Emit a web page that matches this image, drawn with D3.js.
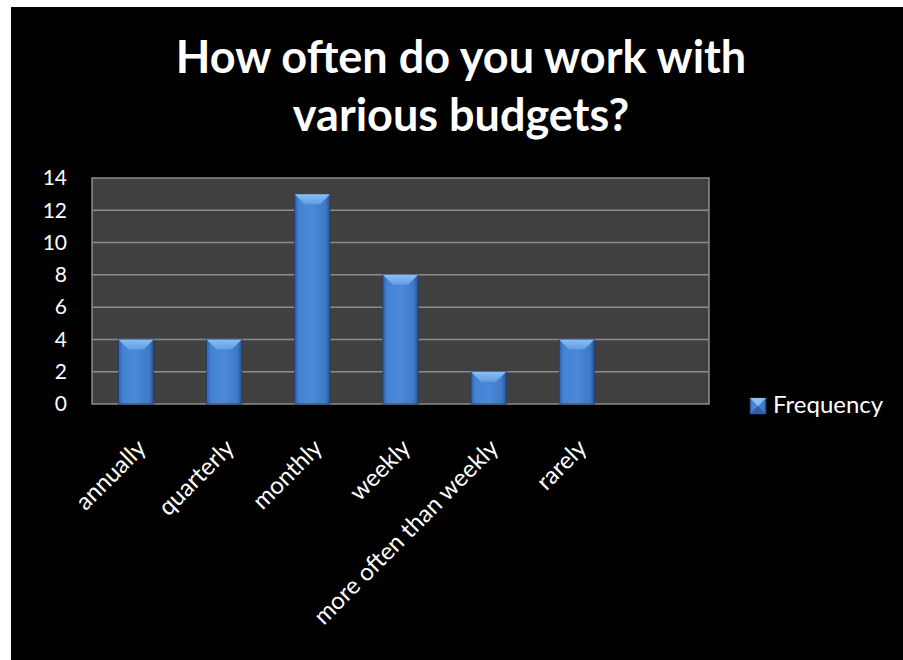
<!DOCTYPE html>
<html>
<head>
<meta charset="utf-8">
<script src="https://cdn.jsdelivr.net/npm/d3@7"></script>
<style>
  html, body { margin: 0; padding: 0; background: #fff; }
  svg { display: block; }
  text { font-family: Lato, "Open Sans", sans-serif; fill: #fff; }
</style>
</head>
<body>
<svg id="chart" width="903" height="660"></svg>
<script>
// Survey responses: how often respondents work with budgets
const categories = ["annually", "quarterly", "monthly", "weekly", "more often than weekly", "rarely", ""];
const frequency = [4, 4, 13, 8, 2, 4, null];
const yTicks = [0, 2, 4, 6, 8, 10, 12, 14];
const titleLines = ["How often do you work with", "various budgets?"];
const seriesName = "Frequency";

const svg = d3.select("#chart");
const W = 903, H = 660;

// chart frame (black panel)
svg.append("rect").attr("x", 11).attr("y", 7).attr("width", W - 11).attr("height", H - 7).attr("fill", "#000");

const plot = { left: 92, top: 178, right: 709, bottom: 404 };

const x = d3.scaleBand().domain(categories.map((c, i) => i))
  .range([plot.left, plot.right]).paddingInner(0.6).paddingOuter(0.3);
const y = d3.scaleLinear().domain([0, 14]).range([plot.bottom, plot.top]);

const defs = svg.append("defs");
const face = defs.append("linearGradient").attr("id", "barFace").attr("x1", 0).attr("x2", 1).attr("y1", 0).attr("y2", 0);
face.append("stop").attr("offset", 0).attr("stop-color", "#2f5fa8");
face.append("stop").attr("offset", 0.12).attr("stop-color", "#4582d4");
face.append("stop").attr("offset", 0.5).attr("stop-color", "#4a88d8");
face.append("stop").attr("offset", 0.88).attr("stop-color", "#3f78c6");
face.append("stop").attr("offset", 1).attr("stop-color", "#274f8e");
const topBevel = defs.append("linearGradient").attr("id", "barTop").attr("x1", 0).attr("x2", 0).attr("y1", 0).attr("y2", 1);
topBevel.append("stop").attr("offset", 0).attr("stop-color", "#8cc0f4");
topBevel.append("stop").attr("offset", 1).attr("stop-color", "#5f9ce6");

// plot area
svg.append("rect").attr("x", plot.left).attr("y", plot.top)
  .attr("width", plot.right - plot.left).attr("height", plot.bottom - plot.top)
  .attr("fill", "#404040").attr("stroke", "#8c8c8c").attr("stroke-width", 1.5);

// gridlines
svg.append("g").selectAll("line").data(yTicks.slice(1, -1)).join("line")
  .attr("x1", plot.left).attr("x2", plot.right)
  .attr("y1", d => y(d)).attr("y2", d => y(d))
  .attr("stroke", "#8c8c8c").attr("stroke-width", 1.5);

// y axis labels
const yAxis = svg.append("g").attr("transform", `translate(${plot.left},0)`)
  .call(d3.axisLeft(y).tickValues(yTicks).tickSize(0).tickPadding(25));
yAxis.select(".domain").remove();
yAxis.selectAll("text").attr("font-size", 21).attr("fill", "#fff")
  .style("font-family", "Lato, 'Open Sans', sans-serif");

// bars with bevelled top
const bars = svg.append("g").selectAll("g").data(frequency.map((v, i) => ({ v, i })).filter(d => d.v != null)).join("g");
bars.append("rect")
  .attr("x", d => x(d.i)).attr("y", d => y(d.v))
  .attr("width", x.bandwidth()).attr("height", d => y(0) - y(d.v))
  .attr("fill", "url(#barFace)").attr("stroke", "#1f3f70").attr("stroke-width", 0.8);
bars.append("path")
  .attr("d", d => {
    const x0 = x(d.i), x1 = x0 + x.bandwidth(), t = y(d.v), b = 10;
    return `M${x0},${t}L${x1},${t}L${x1 - b},${t + b}L${x0 + b},${t + b}Z`;
  })
  .attr("fill", "url(#barTop)");

// category labels, rotated
const xl = svg.append("g");
xl.selectAll("text").data(categories.map((c, i) => ({ c, i })).filter(d => d.c)).join("text")
  .attr("transform", d => `translate(${x(d.i) + x.bandwidth() / 2 + 3},${plot.bottom + 37}) rotate(-45)`)
  .attr("text-anchor", "end").attr("font-size", 24).attr("dy", "0.5em")
  .text(d => d.c);

// title
svg.append("g").selectAll("text").data(titleLines).join("text")
  .attr("x", 461).attr("y", (d, i) => 73 + i * 58)
  .attr("text-anchor", "middle").attr("font-size", 45).attr("font-weight", "bold")
  .text(d => d);

// legend
const lg = svg.append("g").attr("transform", "translate(750,398)");
lg.append("rect").attr("width", 16).attr("height", 16).attr("fill", "url(#barFace)").attr("stroke", "#1f3f70").attr("stroke-width", 0.6);
lg.append("path").attr("d", "M0,0L16,0L8,8Z").attr("fill", "#8cc0f4");
lg.append("path").attr("d", "M0,16L16,16L8,8Z").attr("fill", "#2f5fa8");
lg.append("text").attr("x", 23).attr("y", 15).attr("font-size", 24).text(seriesName);
</script>
</body>
</html>
